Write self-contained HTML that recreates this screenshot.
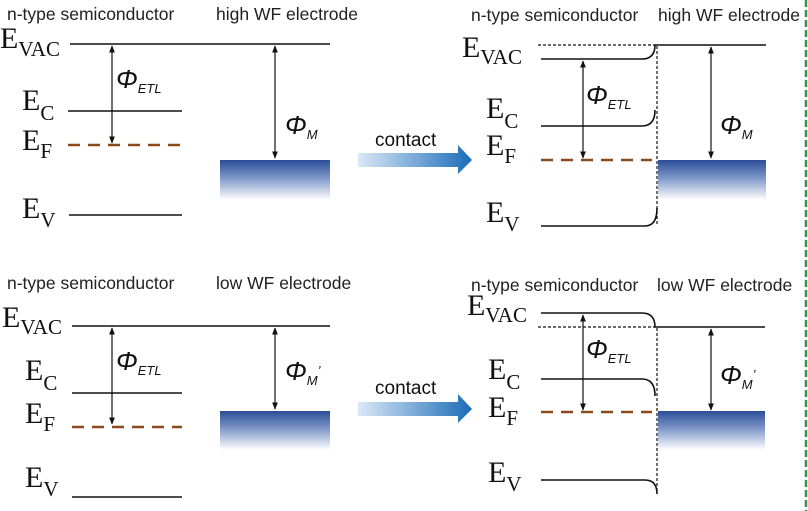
<!DOCTYPE html>
<html><head><meta charset="utf-8"><style>
html,body{margin:0;padding:0;background:#fff;}
svg{display:block;}
.t{font-family:"Liberation Sans",sans-serif;font-size:17.5px;fill:#222;}
.E{font-family:"Liberation Serif",serif;font-size:30px;fill:#111;}
.s{font-family:"Liberation Serif",serif;font-size:21px;fill:#111;}
.ph{font-family:"Liberation Sans",sans-serif;font-size:26px;font-style:italic;fill:#111;}
.ps{font-family:"Liberation Sans",sans-serif;font-size:13px;font-style:italic;fill:#111;}
.c{font-family:"Liberation Sans",sans-serif;font-size:19px;fill:#111;}
</style></head><body>
<svg width="808" height="511" viewBox="0 0 808 511" xmlns="http://www.w3.org/2000/svg">
<defs>
<linearGradient id="el" x1="0" y1="0" x2="0" y2="1">
<stop offset="0" stop-color="#2a4e98"/><stop offset="0.45" stop-color="#7f97c8"/><stop offset="1" stop-color="#ffffff"/>
</linearGradient>
<linearGradient id="ar" x1="0" y1="0" x2="1" y2="0">
<stop offset="0" stop-color="#dbe8f6"/><stop offset="1" stop-color="#1a6cb8"/>
</linearGradient>
<marker id="ah" viewBox="0 0 10 10" refX="9" refY="5" markerWidth="6" markerHeight="6" orient="auto-start-reverse">
<path d="M0,1 L10,5 L0,9 z" fill="#111"/></marker>
</defs>
<g stroke="#111" stroke-width="1.6" fill="none">
<line x1="70" y1="44" x2="330" y2="44"/>
<line x1="68" y1="111" x2="182" y2="111"/>
<line x1="69" y1="215" x2="182" y2="215"/>
<line x1="112" y1="46" x2="112" y2="143" marker-start="url(#ah)" marker-end="url(#ah)" stroke-width="1.2"/>
<line x1="275" y1="46" x2="275" y2="158" marker-start="url(#ah)" marker-end="url(#ah)" stroke-width="1.2"/>
<line x1="72" y1="326" x2="330" y2="326"/>
<line x1="72" y1="393" x2="182" y2="393"/>
<line x1="72" y1="497" x2="182" y2="497"/>
<line x1="112" y1="328" x2="112" y2="424" marker-start="url(#ah)" marker-end="url(#ah)" stroke-width="1.2"/>
<line x1="275" y1="328" x2="275" y2="409" marker-start="url(#ah)" marker-end="url(#ah)" stroke-width="1.2"/>
<line x1="538" y1="45" x2="655" y2="45" stroke-dasharray="3,2" stroke-width="1.2"/>
<path d="M541,59 L642,59 Q655,59 655,45 L766,45"/>
<path d="M541,126 L642,126 Q655,126 655,110"/>
<path d="M541,226 L645,226 Q657,226 657,208"/>
<line x1="657" y1="46" x2="657" y2="225" stroke-dasharray="3,2" stroke-width="1.2"/>
<line x1="583" y1="61" x2="583" y2="158" marker-start="url(#ah)" marker-end="url(#ah)" stroke-width="1.2"/>
<line x1="711" y1="47" x2="711" y2="158" marker-start="url(#ah)" marker-end="url(#ah)" stroke-width="1.2"/>
<line x1="538" y1="327" x2="655" y2="327" stroke-dasharray="3,2" stroke-width="1.2"/>
<path d="M541,313 L642,313 Q655,313 655,327 L765,327"/>
<path d="M541,379 L642,379 Q655,379 655,396"/>
<path d="M541,480 L645,480 Q657,480 657,494"/>
<line x1="657" y1="328" x2="657" y2="493" stroke-dasharray="3,2" stroke-width="1.2"/>
<line x1="583" y1="315" x2="583" y2="410" marker-start="url(#ah)" marker-end="url(#ah)" stroke-width="1.2"/>
<line x1="711" y1="329" x2="711" y2="410" marker-start="url(#ah)" marker-end="url(#ah)" stroke-width="1.2"/>
</g>
<g stroke="#8a4a1c" stroke-width="2.6" stroke-dasharray="12,8">
<line x1="68" y1="145" x2="182" y2="145"/>
<line x1="72" y1="427" x2="182" y2="427"/>
<line x1="541" y1="160" x2="652" y2="160"/>
<line x1="541" y1="412" x2="652" y2="412"/>
</g>
<rect x="220" y="160" width="110" height="40" fill="url(#el)"/>
<rect x="220" y="411" width="110" height="39" fill="url(#el)"/>
<rect x="658" y="160" width="108" height="40" fill="url(#el)"/>
<rect x="658" y="411" width="107" height="39" fill="url(#el)"/>
<path d="M358,153 L458,153 L458,145 L472,160 L458,174 L458,167 L358,167 z" fill="url(#ar)"/>
<path d="M358,402 L458,402 L458,394 L472,409 L458,423 L458,416 L358,416 z" fill="url(#ar)"/>
<text class="c" x="375" y="146">contact</text>
<text class="c" x="375" y="394">contact</text>
<line x1="806" y1="0" x2="806" y2="511" stroke="#2a9a4a" stroke-width="2.5" stroke-dasharray="7,3"/>
<text class="t" x="7" y="20">n-type semiconductor</text>
<text class="t" x="216" y="20">high WF electrode</text>
<text class="t" x="471" y="21">n-type semiconductor</text>
<text class="t" x="658" y="21">high WF electrode</text>
<text class="t" x="7" y="289">n-type semiconductor</text>
<text class="t" x="216" y="289">low WF electrode</text>
<text class="t" x="471" y="291">n-type semiconductor</text>
<text class="t" x="657" y="291">low WF electrode</text>
<text class="E" x="0" y="48">E<tspan class="s" dy="8">VAC</tspan></text>
<text class="E" x="22" y="110">E<tspan class="s" dy="10">C</tspan></text>
<text class="E" x="22" y="150">E<tspan class="s" dy="8">F</tspan></text>
<text class="E" x="22" y="218">E<tspan class="s" dy="9">V</tspan></text>
<text class="E" x="462" y="57">E<tspan class="s" dy="7">VAC</tspan></text>
<text class="E" x="486" y="118">E<tspan class="s" dy="10">C</tspan></text>
<text class="E" x="486" y="155">E<tspan class="s" dy="8">F</tspan></text>
<text class="E" x="486" y="222">E<tspan class="s" dy="9">V</tspan></text>
<text class="E" x="2" y="327">E<tspan class="s" dy="7">VAC</tspan></text>
<text class="E" x="25" y="380">E<tspan class="s" dy="10">C</tspan></text>
<text class="E" x="25" y="423">E<tspan class="s" dy="8">F</tspan></text>
<text class="E" x="25" y="487">E<tspan class="s" dy="9">V</tspan></text>
<text class="E" x="467" y="315">E<tspan class="s" dy="7">VAC</tspan></text>
<text class="E" x="488" y="379">E<tspan class="s" dy="10">C</tspan></text>
<text class="E" x="488" y="417">E<tspan class="s" dy="8">F</tspan></text>
<text class="E" x="488" y="482">E<tspan class="s" dy="9">V</tspan></text>
<text class="ph" x="116" y="88">Φ<tspan class="ps" dy="5">ETL</tspan></text>
<text class="ph" x="285" y="134">Φ<tspan class="ps" dy="5">M</tspan></text>
<text class="ph" x="586" y="104">Φ<tspan class="ps" dy="5">ETL</tspan></text>
<text class="ph" x="720" y="134">Φ<tspan class="ps" dy="5">M</tspan></text>
<text class="ph" x="116" y="370">Φ<tspan class="ps" dy="5">ETL</tspan></text>
<text class="ph" x="285" y="380">Φ<tspan class="ps" dy="5">M</tspan><tspan class="ps" dy="-10">’</tspan></text>
<text class="ph" x="586" y="358">Φ<tspan class="ps" dy="5">ETL</tspan></text>
<text class="ph" x="720" y="384">Φ<tspan class="ps" dy="5">M</tspan><tspan class="ps" dy="-10">’</tspan></text>
</svg>
</body></html>
